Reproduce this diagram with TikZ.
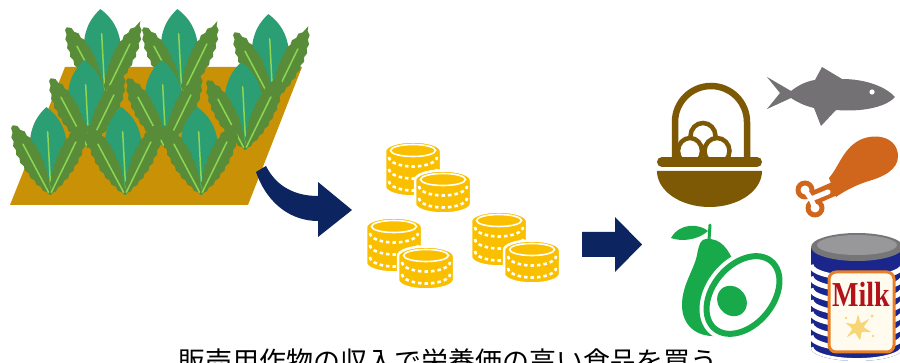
\documentclass[tikz,border=0pt]{standalone}
\usepackage{fontspec}
\usepackage{graphicx}
\usetikzlibrary{decorations.pathmorphing}
\newfontfamily\jpfont{Noto Sans CJK JP}
\newfontfamily\labelfont{Liberation Serif}

\definecolor{soil}{RGB}{201,145,5}
\definecolor{leafteal}{RGB}{44,158,116}
\definecolor{leafdark}{RGB}{88,140,56}
\definecolor{leafrib}{RGB}{140,214,84}
\definecolor{navy}{RGB}{12,36,96}
\definecolor{gold}{RGB}{250,192,0}
\definecolor{basket}{RGB}{125,88,5}
\definecolor{fishgray}{RGB}{115,113,115}
\definecolor{drum}{RGB}{208,102,28}
\definecolor{avo}{RGB}{24,170,74}
\definecolor{canblue}{RGB}{26,38,140}
\definecolor{lidgray}{RGB}{118,118,120}
\definecolor{lidlight}{RGB}{152,152,154}
\definecolor{labelrim}{RGB}{232,128,40}
\definecolor{labelcream}{RGB}{255,251,238}
\definecolor{milkred}{RGB}{178,18,24}
\definecolor{splash}{RGB}{248,214,120}

\tikzset{
  rib/.style={leafrib, line width=1.5, line cap=round},
  eggshape/.style={fill=white, draw=basket, line width=4.5},
  coinface/.style={white, line width=1.6},
  coindots/.style={white, line width=2.6, dash pattern=on 3.5pt off 3pt},
  arrowfill/.style={fill=navy},
  serrated/.style={decorate, decoration={zigzag, segment length=9, amplitude=0.8}},
}

% leaf: base x, base y, tilt, length, half width, colour, extra options
\newcommand\leafshape[7]{%
  \fill[#6, shift={(#1,#2)}, rotate=#3, #7]
    (0,0) .. controls ({0.8*#5},{-0.22*#4}) and ({1.4*#5},{-0.72*#4}) .. (0,{-#4})
          .. controls ({-1.4*#5},{-0.72*#4}) and ({-0.8*#5},{-0.22*#4}) .. (0,0);
  \draw[rib, shift={(#1,#2)}, rotate=#3] (0,-3) -- (0,{-0.72*#4});
}
% one plant: a broad teal leaf between two darker ones
\newcommand\plant[2]{%
  \leafshape{#1+1}{#2}{3}{88}{22}{leafteal}{}
  \leafshape{#1}{#2}{28}{80}{12.5}{leafdark}{serrated}
  \leafshape{#1}{#2}{-26}{82}{12.5}{leafdark}{serrated}
}
% a stack of coins: centre of the top face, number of coins
\newcommand\coinstack[3]{%
  \filldraw[fill=gold, draw=white, line width=2.5]
    ({#1-28},#2) arc[start angle=180, end angle=360, x radius=28, y radius=9.5]
    -- ({#1+28},{#2+12*#3})
    arc[start angle=0, end angle=180, x radius=28, y radius=9.5] -- cycle;
  \draw[coinface] (#1,{#2-0.5}) ellipse [x radius=22.5, y radius=6];
  \foreach \k in {1,...,#3}{
    \draw[coindots] ({#1-24},{#2+12*\k-6})
      arc[start angle=180, end angle=0, x radius=24, y radius=9.5];
  }
}

\begin{document}
\begin{tikzpicture}[x=1pt, y=-1pt]
\useasboundingbox (0,0) rectangle (900,363);
\clip (0,0) rectangle (900,363);
\fill[white] (0,0) rectangle (900,363);

% the field
\fill[soil] (65,67) -- (302,67) -- (248,205) -- (10,205) -- cycle;

% three rows of plants, back to front
\plant{104}{97} \plant{181}{97} \plant{272}{102}
\plant{88}{148} \plant{165}{148} \plant{245}{150}
\plant{50}{195} \plant{125}{195} \plant{201}{195}

% curved arrow from the field to the coins
\path[arrowfill] (256,172) .. controls (268,206) and (293,221) .. (318,221)
  -- (318,237) -- (352,210) -- (318,182) -- (318,196)
  .. controls (297,196) and (277,188) .. (266,166) -- cycle;

% coins
\coinstack{413}{151}{3}
\coinstack{443}{180}{2}
\coinstack{394}{227}{3}
\coinstack{426}{256}{2}
\coinstack{499}{221}{3}
\coinstack{532}{250}{2}

% straight arrow to the food
\path[arrowfill] (582,232) -- (615,232) -- (615,217) -- (642,244.5)
  -- (615,272) -- (615,257) -- (582,257) -- cycle;

% basket of eggs
\draw[basket, line width=6.5] (675,157) -- (675,122)
  arc[start angle=180, end angle=360, radius=36] -- (747,157);
\draw[eggshape] (703,136) ellipse [x radius=12.5, y radius=13];
\draw[eggshape] (690,151) ellipse [x radius=12, y radius=13];
\draw[eggshape] (717,151) ellipse [x radius=12.5, y radius=13];
\draw[basket, line width=10, line cap=round] (662,162) -- (757,162);
\fill[basket] (657,171) -- (762,171)
  arc[start angle=0, end angle=180, x radius=52.5, y radius=36] -- cycle;

% fish
\fill[fishgray] (767,77) -- (791,91) .. controls (800,84) and (808,81) .. (815,80)
  -- (822,67) -- (842,79) .. controls (866,79) and (886,87) .. (895,97)
  .. controls (885,108) and (860,112) .. (836,110) -- (821,126) -- (814,108)
  .. controls (805,106) and (797,102) .. (791,98) -- (767,109) -- (780,93) -- cycle;
\fill[white] (872,92) circle [radius=2.6];

% drumstick: bone, then meat
\fill[drum] (805,190) circle [radius=9.5];
\fill[drum] (815,208) circle [radius=9.5];
\draw[drum, line width=14] (811,199) -- (836,188);
\fill[white] (805,190) circle [radius=4.5];
\fill[white] (815,208) circle [radius=4.5];
\draw[white, line width=5, line cap=round] (805,190) -- (811,199) -- (815,208);
\draw[white, line width=5, line cap=round] (811,199) -- (828,192);
\fill[drum] (829,178) .. controls (838,168) and (842,152) .. (855,143)
  .. controls (868,133) and (892,134) .. (897,150)
  .. controls (902,166) and (888,175) .. (872,180)
  .. controls (858,184) and (846,190) .. (836,197) -- cycle;

% avocado: whole fruit, leaf and stem, cut half
\fill[avo] (706,239) .. controls (722,238) and (728,250) .. (734,262) -- (745,300)
  -- (716,336) .. controls (696,337) and (682,325) .. (682,305)
  .. controls (682,285) and (694,270) .. (697,255)
  .. controls (699,244) and (701,239) .. (706,239) -- cycle;
\draw[avo, line width=3, line cap=round] (709,240) -- (710,225);
\fill[avo] (671,238) .. controls (680,222) and (700,224) .. (708,231)
  .. controls (698,240) and (682,242) .. (671,238) -- cycle;
\draw[white, line width=14, rotate around={50:(743,295)}] (743,295) ellipse [x radius=44, y radius=30];
\filldraw[fill=white, draw=avo, line width=6, rotate around={50:(743,295)}] (743,295) ellipse [x radius=44, y radius=30];
\fill[avo, rotate around={40:(732,301)}] (732,301) ellipse [x radius=14, y radius=16];

% can of milk
\begin{scope}
  \clip (811,248) -- (811,348) arc[start angle=180, end angle=0, x radius=46, y radius=13] -- (903,248) -- cycle;
  \fill[canblue] (800,230) rectangle (905,365);
  \foreach \i in {0,...,7}{
    \draw[white, line width=5] (811,{265+11.8*\i})
      arc[start angle=180, end angle=0, x radius=46, y radius=13];
  }
\end{scope}
\fill[lidgray] (857,247) ellipse [x radius=46, y radius=14];
\fill[lidlight] (857,245) ellipse [x radius=40, y radius=10];
\filldraw[fill=labelcream, draw=labelrim, line width=3, rounded corners=7] (829,272) rectangle (894,352);
\node[milkred, font=\labelfont\bfseries\fontsize{35}{35}\selectfont, anchor=base, inner sep=0pt]
  (milk) at (861,307) {\scalebox{0.8}[1]{Milk}};
\fill[splash, shift={(858,328)}] plot[smooth cycle, tension=0.4] coordinates
  {(0,-13) (3,-5) (11,-9) (6,-1) (13,4) (4,4) (2,12) (-3,5) (-11,9) (-6,1) (-12,-5) (-3,-4)};
\fill[splash] (872,316) circle [radius=1.6];
\fill[splash] (846,318) circle [radius=1.3];
\fill[splash] (873,336) circle [radius=1.3];

% caption
\node[font=\jpfont\fontsize{27}{27}\selectfont, anchor=base, inner sep=0pt]
  (caption) at (448,372) {販売用作物の収入で栄養価の高い食品を買う};
\end{tikzpicture}
\end{document}
